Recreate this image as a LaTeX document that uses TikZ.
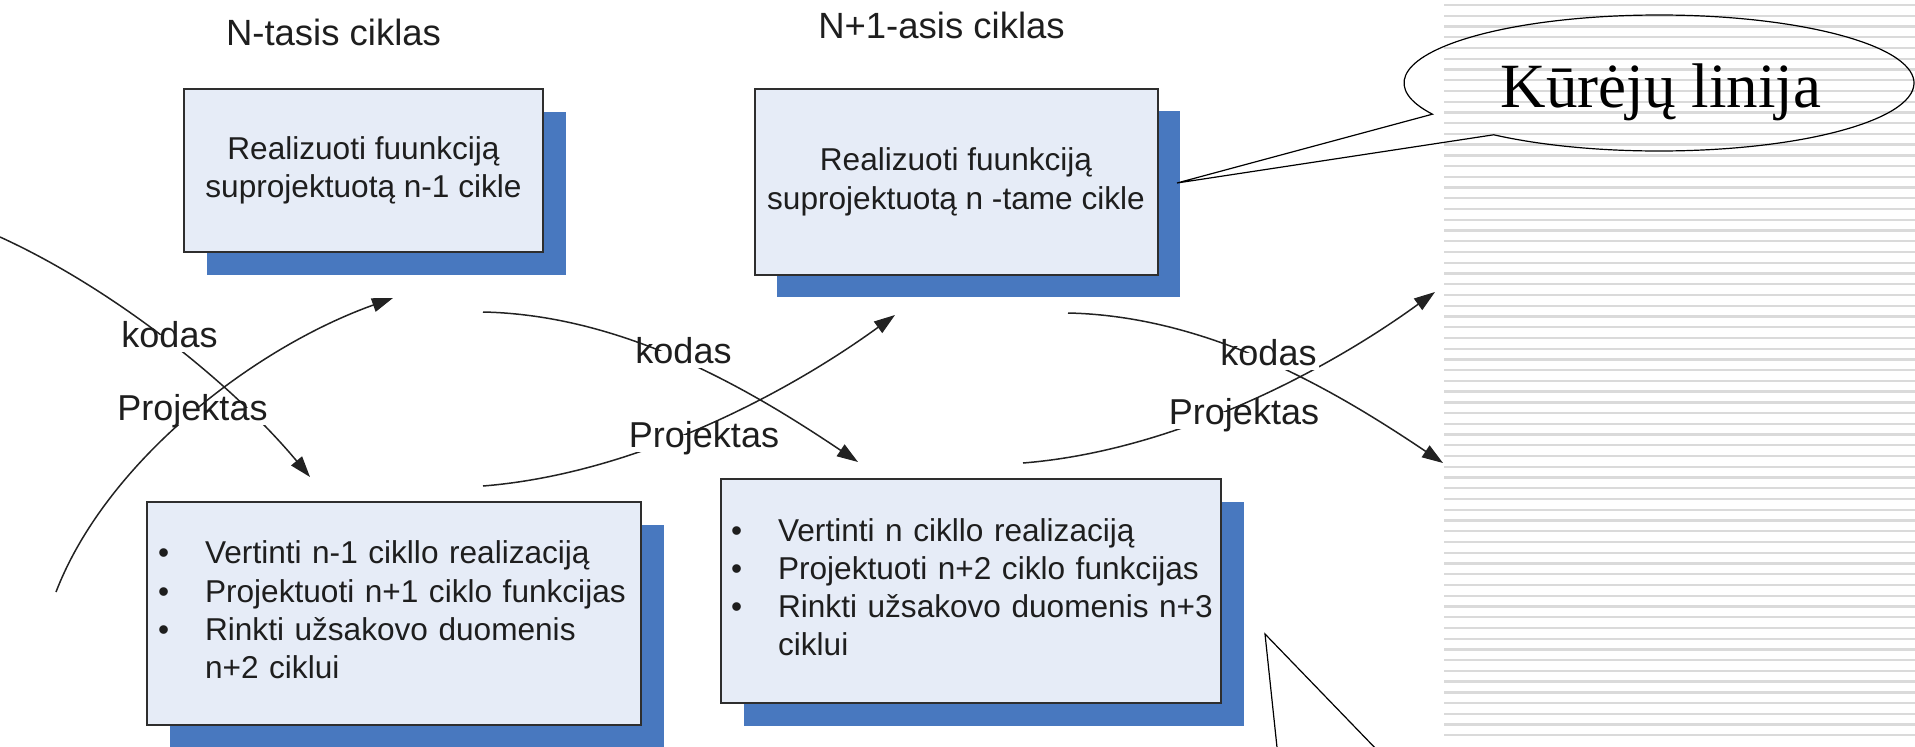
\documentclass[tikz,border=0pt]{standalone}
\usepackage{fontspec}
\setmainfont{Liberation Sans}
\newfontfamily\calloutfont{Liberation Serif}
\usetikzlibrary{arrows.meta,shadows}
\definecolor{boxfill}{HTML}{E6ECF7}
\definecolor{boxshade}{HTML}{4878BF}
\definecolor{boxedge}{HTML}{2E2E2E}
\definecolor{flowink}{HTML}{222222}
\definecolor{stripeink}{HTML}{DADADA}
\definecolor{textink}{HTML}{1E1E1E}

\begin{document}
\begin{tikzpicture}[x=1pt,y=-1pt,
  cyclebox/.style={draw=boxedge, line width=2pt, fill=boxfill, outer sep=0pt, inner sep=0pt,
    general shadow={fill=boxshade, shadow xshift=22.5pt, shadow yshift=-22.5pt}},
  boxtext/.style={font=\fontsize{31.6}{38.2}\selectfont, text=textink},
  flowlabel/.style={fill=white, inner xsep=2pt, inner ysep=3pt, anchor=base,
    text height=0.905em, text depth=0.212em, font=\fontsize{36}{43}\selectfont, text=textink},
  cycletitle/.style={font=\fontsize{36.5}{44}\selectfont, text=textink, anchor=base, inner sep=0pt},
  flowline/.style={draw=flowink, line width=1.5pt},
  flowtip/.style={-{Triangle[length=21pt,width=14pt]}},
  calloutline/.style={draw=black, line width=1.2pt},
  stripeline/.style={draw=stripeink, line width=2.3pt}]

\useasboundingbox (0,0) rectangle (1915,747);

% striped panel on the right
\foreach \k in {0,...,68}
  \draw[stripeline] (1444,{5+10.74*\k}) -- (1915,{5+10.74*\k});

% cycle titles
\node[cycletitle] (t1) at (333.5,45) {N-tasis ciklas};
\node[cycletitle] (t2) at (941.5,38) {N+1-asis ciklas};

% upper boxes: implementation
\node[cyclebox, boxtext, minimum width=359pt, minimum height=163pt, align=center]
  (b1) at (363.5,170.5) {Realizuoti fuunkciją\\suprojektuotą n-1 cikle};
\node[cyclebox, boxtext, minimum width=403pt, minimum height=186pt, align=center]
  (b2) at (956,181.75) {Realizuoti fuunkciją\\suprojektuotą n -tame cikle};

% lower boxes: evaluation and design
\node[cyclebox, boxtext, minimum height=223pt, text width=472pt, inner xsep=11pt, align=left]
  (b3) at (394,613.5) {%
  \begin{tabular}{@{}l@{\hspace{36pt}}l@{}}
  \textbullet & Vertinti n-1 cikllo realizaciją\\
  \textbullet & Projektuoti n+1 ciklo funkcijas\\
  \textbullet & Rinkti užsakovo duomenis\\
              & n+2 ciklui
  \end{tabular}};
\node[cyclebox, boxtext, minimum height=224pt, text width=480pt, inner xsep=10pt, align=left]
  (b4) at (971,591) {%
  \begin{tabular}{@{}l@{\hspace{36pt}}l@{}}
  \textbullet & Vertinti n cikllo realizaciją\\
  \textbullet & Projektuoti n+2 ciklo funkcijas\\
  \textbullet & Rinkti užsakovo duomenis n+3\\
              & ciklui
  \end{tabular}};

% flow ends
\coordinate (k0s) at (0,237);     \coordinate (k0e) at (310,477);
\coordinate (p0s) at (56,592);    \coordinate (p0e) at (393,298);
\coordinate (k1s) at (483,312);   \coordinate (k1e) at (858,462);
\coordinate (p1s) at (483,486);   \coordinate (p1e) at (895,315);
\coordinate (k2s) at (1068,313);  \coordinate (k2e) at (1443,463);
\coordinate (p2s) at (1023,463);  \coordinate (p2e) at (1435,292);

% code and design flows
\draw[flowline,flowtip] (k0s) .. controls (110,287) and (230,381) .. (k0e);
\draw[flowline,flowtip] (p0s) .. controls (106,462) and (253,348) .. (p0e);
\draw[flowline,flowtip] (k1s) .. controls (623,315) and (748,388) .. (k1e);
\draw[flowline,flowtip] (p1s) .. controls (633,474) and (785,395) .. (p1e);
\draw[flowline,flowtip] (k2s) .. controls (1208,316) and (1333,389) .. (k2e);
\draw[flowline,flowtip] (p2s) .. controls (1173,451) and (1325,372) .. (p2e);

% flow labels
\node[flowlabel] (lk0) at (169.5,347) {kodas};
\node[flowlabel] (lp0) at (192.5,420) {Projektas};
\node[flowlabel] (lk1) at (683.5,363) {kodas};
\node[flowlabel] (lp1) at (704,447) {Projektas};
\node[flowlabel] (lk2) at (1268.5,365) {kodas};
\node[flowlabel] (lp2) at (1244,424) {Projektas};

% callout: developers' line
\coordinate (cc) at (1659,83);
\coordinate (ctip) at (1177,183);
\draw[calloutline] (ctip) -- ([shift={(229.6:255pt and 68pt)}]cc)
  arc[start angle=229.6, end angle=567.3, x radius=255pt, y radius=68pt] -- cycle;
\node[font=\calloutfont\fontsize{63}{70}\selectfont, anchor=base, inner sep=0pt]
  (ctext) at (1661,107) {Kūrėjų linija};

% lower callout pointer
\coordinate (c2tip) at (1265,634);
\coordinate (c2l) at (1277.5,752);
\coordinate (c2r) at (1379,752);
\draw[calloutline] (c2l) -- (c2tip) -- (c2r);

\end{tikzpicture}
\end{document}
